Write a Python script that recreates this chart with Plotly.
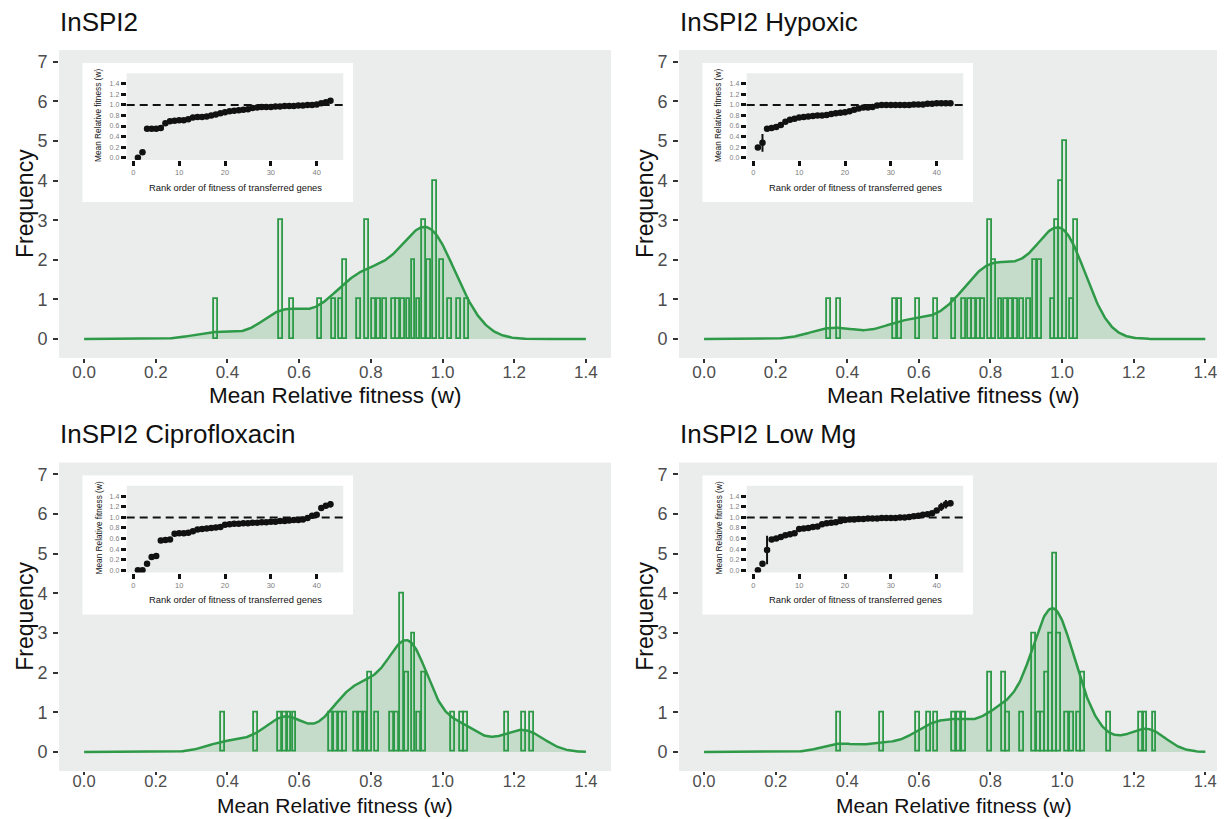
import numpy as np
import plotly.graph_objects as go

# ---------------- data ----------------
panel_titles = ["InSPI2", "InSPI2 Hypoxic", "InSPI2 Ciprofloxacin", "InSPI2 Low Mg"]

# histogram bins (mean relative fitness) and their counts
bin_centers_1 = [0.369, 0.549, 0.579, 0.659, 0.698, 0.717, 0.729, 0.768, 0.789, 0.809, 0.824, 0.840,
                 0.864, 0.876, 0.890, 0.905, 0.919, 0.933, 0.947, 0.962, 0.978, 0.998, 1.020, 1.047, 1.068]
bin_counts_1 = [1, 3, 1, 1, 1, 1, 2, 1, 3, 1, 1, 1, 1, 1, 1, 1, 2, 1, 3, 2, 4, 2, 1, 1, 1]

bin_centers_2 = [0.348, 0.378, 0.534, 0.548, 0.598, 0.648, 0.697, 0.727, 0.742, 0.755, 0.768, 0.779,
                 0.798, 0.811, 0.828, 0.842, 0.856, 0.870, 0.888, 0.907, 0.925, 0.939, 0.975, 0.986,
                 0.997, 1.009, 1.028, 1.039]
bin_counts_2 = [1, 1, 1, 1, 1, 1, 1, 1, 1, 1, 1, 1, 3, 2, 1, 1, 1, 1, 1, 1, 2, 2, 1, 3, 4, 5, 1, 3]

bin_centers_3 = [0.388, 0.479, 0.547, 0.561, 0.573, 0.587, 0.690, 0.704, 0.717, 0.729, 0.758, 0.772,
                 0.785, 0.798, 0.817, 0.859, 0.873, 0.888, 0.902, 0.919, 0.935, 0.949, 1.029, 1.053,
                 1.065, 1.180, 1.228, 1.249]
bin_counts_3 = [1, 1, 1, 1, 1, 1, 1, 1, 1, 1, 1, 1, 1, 2, 1, 1, 1, 4, 2, 3, 1, 2, 1, 1, 1, 1, 1, 1]

bin_centers_4 = [0.378, 0.497, 0.598, 0.628, 0.648, 0.697, 0.711, 0.727, 0.798, 0.837, 0.849, 0.888,
                 0.921, 0.935, 0.947, 0.958, 0.969, 0.980, 0.991, 1.014, 1.028, 1.046, 1.058, 1.130,
                 1.221, 1.233, 1.258]
bin_counts_4 = [1, 1, 1, 1, 1, 1, 1, 1, 2, 2, 1, 1, 3, 1, 1, 2, 3, 5, 3, 1, 1, 1, 2, 1, 1, 1, 1]

# inset: fitness of transferred genes in rank order, with error
rank_fitness_1 = [0.00, 0.10, 0.55, 0.55, 0.55, 0.56, 0.65, 0.69, 0.70, 0.71, 0.71, 0.73, 0.76, 0.77,
                  0.77, 0.78, 0.80, 0.82, 0.84, 0.86, 0.88, 0.89, 0.90, 0.91, 0.92, 0.94, 0.95, 0.96,
                  0.96, 0.96, 0.97, 0.97, 0.98, 0.98, 0.98, 0.99, 0.99, 1.00, 1.00, 1.01, 1.03, 1.05, 1.08]
rank_error_1 = [0.0] * 43

rank_fitness_2 = [0.19, 0.28, 0.55, 0.56, 0.58, 0.62, 0.68, 0.72, 0.74, 0.76, 0.77, 0.78, 0.79, 0.80,
                  0.80, 0.81, 0.83, 0.84, 0.85, 0.86, 0.88, 0.91, 0.93, 0.95, 0.95, 0.96, 0.99, 1.00,
                  1.00, 1.00, 1.00, 1.00, 1.00, 1.00, 1.01, 1.01, 1.01, 1.02, 1.02, 1.03, 1.03, 1.03, 1.03]
rank_error_2 = [0.0, 0.17] + [0.0] * 21 + [0.04] + [0.0] * 19

rank_fitness_3 = [0.00, 0.00, 0.12, 0.25, 0.27, 0.56, 0.57, 0.58, 0.69, 0.70, 0.70, 0.71, 0.74, 0.77,
                  0.78, 0.79, 0.80, 0.81, 0.82, 0.86, 0.87, 0.88, 0.88, 0.89, 0.89, 0.90, 0.90, 0.91,
                  0.91, 0.92, 0.92, 0.93, 0.93, 0.94, 0.95, 0.95, 0.96, 0.99, 1.03, 1.05, 1.18, 1.22, 1.25]
rank_error_3 = [0.0] * 40 + [0.05, 0.05, 0.06]

rank_fitness_4 = [0.00, 0.12, 0.38, 0.58, 0.60, 0.63, 0.66, 0.68, 0.70, 0.78, 0.79, 0.80, 0.82, 0.83,
                  0.87, 0.89, 0.90, 0.91, 0.93, 0.95, 0.96, 0.96, 0.97, 0.97, 0.98, 0.98, 0.98, 0.99,
                  0.99, 0.99, 0.99, 1.00, 1.00, 1.01, 1.02, 1.03, 1.05, 1.06, 1.08, 1.13, 1.20, 1.25, 1.27]
rank_error_4 = [0.0, 0.0, 0.27] + [0.0] * 21 + [0.04] + [0.0] * 6 + [0.04] + [0.0] * 8 + [0.08, 0.08, 0.06]

x_tick_vals = [0.0, 0.2, 0.4, 0.6, 0.8, 1.0, 1.2, 1.4]
x_tick_text = ["0.0", "0.2", "0.4", "0.6", "0.8", "1.0", "1.2", "1.4"]
y_tick_vals = [0, 1, 2, 3, 4, 5, 6, 7]
inset_y_vals = [0.0, 0.2, 0.4, 0.6, 0.8, 1.0, 1.2, 1.4]
inset_y_text = ["0.0", "0.2", "0.4", "0.6", "0.8", "1.0", "1.2", "1.4"]
inset_x_vals = [0, 10, 20, 30, 40]

centers = [bin_centers_1, bin_centers_2, bin_centers_3, bin_centers_4]
counts = [bin_counts_1, bin_counts_2, bin_counts_3, bin_counts_4]
rank_fit = [rank_fitness_1, rank_fitness_2, rank_fitness_3, rank_fitness_4]
rank_err = [rank_error_1, rank_error_2, rank_error_3, rank_error_4]
density_adjust = [0.85, 0.9, 0.8, 1.0]

# ---------------- styling / layout ----------------
OFF = 8                      # page body margin
W, H = 1225 - OFF, 819 - OFF
FONT = "Liberation Sans, Arial, Helvetica, sans-serif"
GREEN = "#2E9A48"
BG = "#EBEDED"


def fx(s):
    return (s - OFF) / W


def fy(s):
    return 1 - (s - OFF) / H


panels = [
    dict(L=59, R=611, T=50, B=358, xr=[-0.07, 1.47], bottom=False),
    dict(L=679, R=1225, T=50, B=358, xr=[-0.07, 1.455], bottom=False),
    dict(L=59, R=611, T=462.5, B=771, xr=[-0.07, 1.47], bottom=True),
    dict(L=679, R=1225, T=462.5, B=771, xr=[-0.07, 1.455], bottom=True),
]

fig = go.Figure()
shapes = []
annotations = []
layout_axes = {}

grid = np.linspace(0, 1.4, 500)

for i, p in enumerate(panels):
    n = i + 1
    xa, ya = f"x{n}", f"y{n}"
    m = i + 5
    xi, yi = f"x{m}", f"y{m}"

    # density (gaussian kde, nrd0 bandwidth) from the observations
    obs = np.repeat(np.array(centers[i]), np.array(counts[i]))
    sd = obs.std(ddof=1)
    iqr = np.subtract(*np.percentile(obs, [75, 25]))
    bw = density_adjust[i] * 0.9 * min(sd, iqr / 1.34) * len(obs) ** (-0.2)
    dens = np.exp(-0.5 * ((grid[:, None] - obs[None, :]) / bw) ** 2).sum(axis=1) / (len(obs) * bw * np.sqrt(2 * np.pi))

    fig.add_trace(go.Scatter(x=grid, y=dens, mode="lines", fill="tozeroy",
                             fillcolor="rgba(46,154,72,0.2)", line=dict(width=0, color=GREEN),
                             xaxis=xa, yaxis=ya, showlegend=False, hoverinfo="skip"))
    fig.add_trace(go.Bar(x=centers[i], y=counts[i], width=0.011,
                         marker=dict(color="rgba(46,154,72,0.05)", line=dict(color=GREEN, width=1.8)),
                         xaxis=xa, yaxis=ya, showlegend=False))
    fig.add_trace(go.Scatter(x=grid, y=dens, mode="lines", line=dict(width=2.5, color=GREEN),
                             xaxis=xa, yaxis=ya, showlegend=False, hoverinfo="skip"))

    # inset scatter
    ranks = np.arange(1, len(rank_fit[i]) + 1)
    fig.add_trace(go.Scatter(x=ranks, y=rank_fit[i], mode="markers",
                             marker=dict(color="#111111", size=6.5),
                             error_y=dict(type="data", array=rank_err[i], color="#111111",
                                          thickness=2, width=0),
                             xaxis=xi, yaxis=yi, showlegend=False))

    # backgrounds (order matters)
    shapes.append(dict(type="rect", xref="paper", yref="paper", layer="below",
                       x0=fx(p["L"]), x1=fx(p["R"]), y0=fy(p["B"]), y1=fy(p["T"]),
                       fillcolor=BG, line=dict(width=0)))
    shapes.append(dict(type="rect", xref="paper", yref="paper", layer="below",
                       x0=fx(p["L"] + 23.5), x1=fx(p["L"] + 294), y0=fy(p["T"] + 152), y1=fy(p["T"] + 13),
                       fillcolor="white", line=dict(width=0)))
    shapes.append(dict(type="rect", xref="paper", yref="paper", layer="below",
                       x0=fx(p["L"] + 67.7), x1=fx(p["L"] + 284.3), y0=fy(p["T"] + 110), y1=fy(p["T"] + 23.3),
                       fillcolor=BG, line=dict(width=0)))
    shapes.append(dict(type="line", xref=f"{xi} domain", yref=yi, layer="above",
                       x0=0, x1=1, y0=1.0, y1=1.0,
                       line=dict(color="#111111", width=2, dash="8px,5px")))

    # main axes
    xkey = "xaxis" if n == 1 else f"xaxis{n}"
    ykey = "yaxis" if n == 1 else f"yaxis{n}"
    layout_axes[xkey] = dict(domain=[fx(p["L"]), min(fx(p["R"]), 1.0)], range=p["xr"], anchor=ya,
                             tickvals=x_tick_vals, ticktext=x_tick_text, ticks="outside",
                             ticklen=3 if p["bottom"] else 4, tickwidth=1.5, tickcolor="#333333",
                             showgrid=False, zeroline=False, showline=False,
                             ticklabelstandoff=-8 if p["bottom"] else -5,
                             tickfont=dict(family=FONT, size=16.5 if p["bottom"] else 17, color="#4D4D4D"))
    layout_axes[ykey] = dict(domain=[fy(p["B"]), fy(p["T"])], range=[-0.48, 7.3], anchor=xa,
                             tickvals=y_tick_vals, ticks="outside", ticklen=5, tickwidth=1.5,
                             tickcolor="#333333", showgrid=False, zeroline=False, showline=False,
                             ticklabelstandoff=2,
                             tickfont=dict(family=FONT, size=18, color="#4D4D4D"))
    # inset axes
    layout_axes[f"xaxis{m}"] = dict(domain=[fx(p["L"] + 67.7), fx(p["L"] + 284.3)], range=[-1.44, 45.8],
                                    anchor=yi, tickvals=inset_x_vals, ticks="outside", ticklen=5,
                                    tickwidth=2.5, tickcolor="#111111", showgrid=False, zeroline=False,
                                    showline=False, tickfont=dict(family=FONT, size=7.5, color="#808080"))
    layout_axes[f"yaxis{m}"] = dict(domain=[fy(p["T"] + 110), fy(p["T"] + 23.3)], range=[-0.045, 1.6],
                                    anchor=xi, tickvals=inset_y_vals, ticktext=inset_y_text,
                                    ticks="outside", ticklen=5, tickwidth=2.5, tickcolor="#111111",
                                    showgrid=False, zeroline=False, showline=False,
                                    tickfont=dict(family=FONT, size=7, color="#808080"))

    # texts
    cx = (p["L"] + p["R"]) / 2 if p["R"] < 1225 else (p["L"] + 1229) / 2
    annotations.append(dict(text=panel_titles[i], xref="paper", yref="paper", x=fx(p["L"] - 1),
                            y=fy(p["T"] - 28), xanchor="left", yanchor="middle", showarrow=False,
                            font=dict(family=FONT, size=26, color="#111111")))
    if p["bottom"]:
        annotations.append(dict(text="Mean Relative fitness (w)", xref="paper", yref="paper",
                                x=fx(cx), y=fy(818.5), xanchor="center", yanchor="bottom",
                                showarrow=False, font=dict(family=FONT, size=21, color="#111111")))
    else:
        annotations.append(dict(text="Mean Relative fitness (w)", xref="paper", yref="paper",
                                x=fx(cx), y=fy(p["B"] + 37), xanchor="center", yanchor="middle",
                                showarrow=False, font=dict(family=FONT, size=22.5, color="#111111")))
    annotations.append(dict(text="Frequency", xref="paper", yref="paper", x=fx(p["L"] - 34),
                            y=fy((p["T"] + p["B"]) / 2), xanchor="center", yanchor="middle",
                            textangle=-90, showarrow=False,
                            font=dict(family=FONT, size=23, color="#111111")))
    annotations.append(dict(text="Rank order of fitness of transferred genes", xref="paper", yref="paper",
                            x=fx(p["L"] + 176), y=fy(p["T"] + 137), xanchor="center", yanchor="middle",
                            showarrow=False, font=dict(family=FONT, size=9.4, color="#111111")))
    annotations.append(dict(text="Mean Relative fitness (w)", xref="paper", yref="paper",
                            x=fx(p["L"] + 39), y=fy(p["T"] + 66), xanchor="center", yanchor="middle",
                            textangle=-90, showarrow=False,
                            font=dict(family=FONT, size=8.3, color="#111111")))

fig.update_layout(
    width=W, height=H, margin=dict(l=0, r=0, t=0, b=0),
    paper_bgcolor="white", plot_bgcolor="rgba(0,0,0,0)",
    shapes=shapes, annotations=annotations, barmode="overlay", bargap=0,
    font=dict(family=FONT), showlegend=False,
    **layout_axes,
)

fig.write_html("out.html")
